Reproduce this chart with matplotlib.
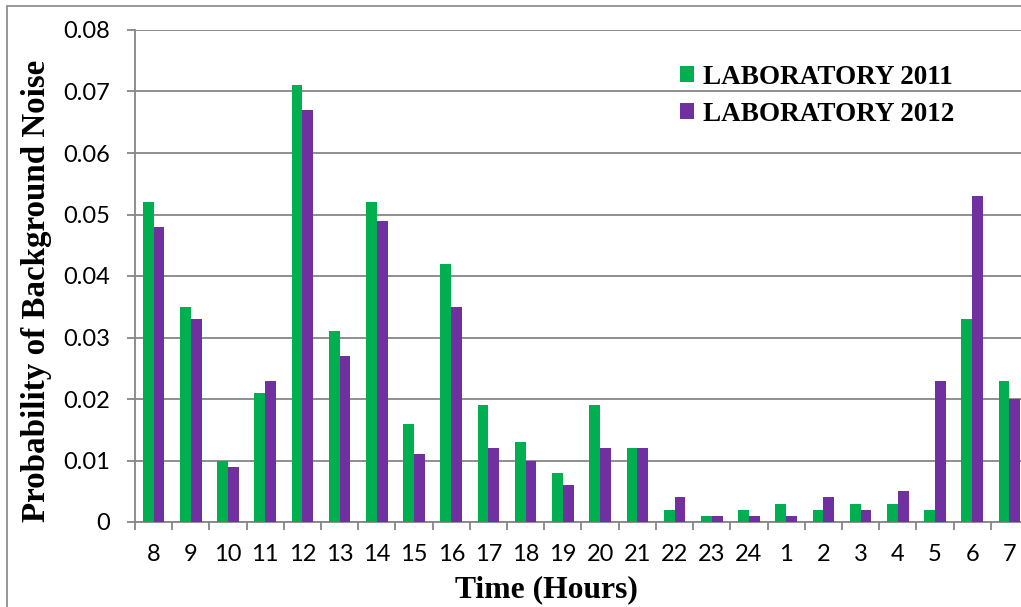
import numpy as np
import matplotlib.pyplot as plt
from matplotlib.patches import Rectangle

# ── Data ────────────────────────────────────────────────────────
hours = ["8", "9", "10", "11", "12", "13", "14", "15", "16", "17", "18", "19",
         "20", "21", "22", "23", "24", "1", "2", "3", "4", "5", "6", "7"]
lab_2011 = [0.052, 0.035, 0.010, 0.021, 0.071, 0.031, 0.052, 0.016, 0.042, 0.019,
            0.013, 0.008, 0.019, 0.012, 0.002, 0.001, 0.002, 0.003, 0.002, 0.003,
            0.003, 0.002, 0.033, 0.023]
lab_2012 = [0.048, 0.033, 0.009, 0.023, 0.067, 0.027, 0.049, 0.011, 0.035, 0.012,
            0.010, 0.006, 0.012, 0.012, 0.004, 0.001, 0.001, 0.001, 0.004, 0.002,
            0.005, 0.023, 0.053, 0.020]

green = "#00B050"
purple = "#7030A0"
grid_col = "#868686"

# ── Figure ──────────────────────────────────────────────────────
W, H = 1021, 607
fig = plt.figure(figsize=(W / 100, H / 100), dpi=100)
ax = fig.add_axes([135 / W, 1 - 522 / H, (1028 - 135) / W, (522 - 30) / H])

x = np.arange(len(hours))
bw = 0.29
ax.bar(x - bw / 2, lab_2011, width=bw, color=green, label="LABORATORY 2011", zorder=3)
ax.bar(x + bw / 2, lab_2012, width=bw, color=purple, label="LABORATORY 2012", zorder=3)

ax.set_xlim(-0.5, len(hours) - 0.5)
ax.set_ylim(0, 0.08)
ax.set_yticks(np.arange(0, 0.081, 0.01))
ax.set_yticklabels(["0"] + [f"{v:.2f}" for v in np.arange(0.01, 0.081, 0.01)])
ax.yaxis.grid(True, color=grid_col, linewidth=1.3, zorder=0)

# category boundary ticks + centered labels
ax.set_xticks(np.arange(-0.5, len(hours), 1.0))
ax.set_xticklabels([])
ax.set_xticks(x, minor=True)
ax.set_xticklabels(hours, minor=True, fontfamily="Lato", fontsize=17)
ax.tick_params(axis="x", which="major", length=6, width=1.3, color=grid_col, direction="out")
ax.tick_params(axis="x", which="minor", length=0, pad=16)
ax.tick_params(axis="y", length=6, width=1.3, color=grid_col, pad=12, labelsize=17)
for lbl in ax.get_yticklabels():
    lbl.set_fontfamily("Lato")

for side in ["top", "right"]:
    ax.spines[side].set_visible(False)
for side in ["left", "bottom"]:
    ax.spines[side].set_color(grid_col)
    ax.spines[side].set_linewidth(1.3)

fig.text(546 / W, 1 - 590 / H, "Time (Hours)", ha="center", va="center",
         fontfamily="Liberation Serif", fontweight="bold", fontsize=22.8)
fig.text(37 / W, 1 - 291 / H, "Probability of Background Noise", ha="center", va="center",
         rotation=90, fontfamily="Liberation Serif", fontweight="bold", fontsize=23.8)

leg = ax.legend(loc="upper left", bbox_to_anchor=(666 / W, 1 - 51 / H),
                bbox_transform=fig.transFigure, frameon=False,
                prop={"family": "Liberation Serif", "weight": "bold", "size": 19.5},
                handlelength=0.55, handleheight=0.55, handletextpad=0.3,
                labelspacing=0.45, borderpad=0)

# outer chart border (left/top visible, rest cropped)
fig.patches.append(Rectangle((7 / W, -0.05), 1.1, 1 - 6 / H + 0.05,
                             transform=fig.transFigure, fill=False,
                             edgecolor=grid_col, linewidth=1.2))

fig.savefig("out.png", dpi=100)
